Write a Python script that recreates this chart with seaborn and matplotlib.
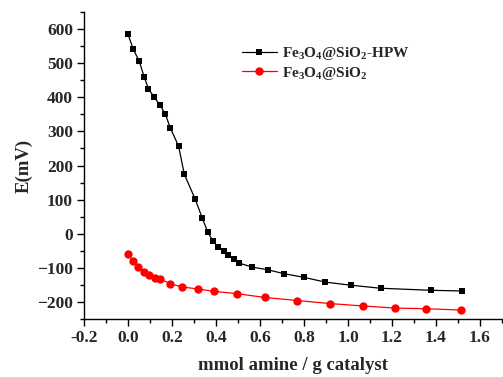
import matplotlib
matplotlib.use("Agg")
import matplotlib.pyplot as plt
from matplotlib.ticker import MultipleLocator
import seaborn as sns
import pandas as pd

# Data
hpw_x = [0.0, 0.024, 0.051, 0.073, 0.093, 0.119, 0.146, 0.170, 0.193, 0.230, 0.256, 0.305,
         0.338, 0.363, 0.386, 0.409, 0.435, 0.456, 0.481, 0.504, 0.565, 0.637, 0.707,
         0.800, 0.897, 1.012, 1.148, 1.379, 1.518]
hpw_y = [585, 541, 506, 461, 425, 400, 377, 350, 309, 257, 174, 102,
         45, 4, -22, -38, -50, -63, -75, -86, -98, -106, -117,
         -128, -142, -151, -160, -166, -168]
sio2_x = [0.0, 0.021, 0.046, 0.071, 0.095, 0.122, 0.146, 0.193, 0.244, 0.317, 0.389,
          0.497, 0.622, 0.770, 0.920, 1.069, 1.213, 1.355, 1.515]
sio2_y = [-59, -80, -99, -112, -122, -129, -133, -147, -156, -162, -169,
          -176, -187, -196, -205, -212, -218, -220, -224]
label_hpw = r"Fe$_3$O$_4$@SiO$_2$-HPW"
label_sio2 = r"Fe$_3$O$_4$@SiO$_2$"

sns.set_theme(style="white")
plt.rcParams["font.family"] = ["Liberation Serif", "DejaVu Serif"]
plt.rcParams["font.weight"] = "bold"
plt.rcParams["mathtext.fontset"] = "custom"
plt.rcParams["mathtext.rm"] = "Liberation Serif:bold"
plt.rcParams["mathtext.it"] = "Liberation Serif:bold"
plt.rcParams["mathtext.bf"] = "Liberation Serif:bold"
plt.rcParams["mathtext.default"] = "rm"

fig = plt.figure(figsize=(5.03, 3.77), dpi=100)
ax = fig.add_axes([0.167, 0.154, 0.831, 0.814])

df1 = pd.DataFrame({"x": hpw_x, "y": hpw_y})
df2 = pd.DataFrame({"x": sio2_x, "y": sio2_y})
sns.lineplot(data=df1, x="x", y="y", ax=ax, sort=False, color="black", marker="s",
             markersize=5, markeredgewidth=0, linewidth=0.9, label=label_hpw)
sns.lineplot(data=df2, x="x", y="y", ax=ax, sort=False, color="red", marker="o",
             markersize=6, markeredgewidth=0, linewidth=0.9, label=label_sio2)

ax.set_xlim(-0.2, 1.7)
ax.set_ylim(-250, 650)
ax.set_xticks([-0.2, 0.0, 0.2, 0.4, 0.6, 0.8, 1.0, 1.2, 1.4, 1.6])
ax.set_xticklabels(["-0.2", "0.0", "0.2", "0.4", "0.6", "0.8", "1.0", "1.2", "1.4", "1.6"])
ax.set_yticks([-200, -100, 0, 100, 200, 300, 400, 500, 600])
ax.xaxis.set_minor_locator(MultipleLocator(0.1))
ax.yaxis.set_minor_locator(MultipleLocator(50))
ax.tick_params(which="major", direction="out", length=5, width=1, color="black",
               labelsize=12.5, pad=3, bottom=True, left=True)
ax.tick_params(which="minor", direction="out", length=3, width=1, color="black",
               bottom=True, left=True)
for lab in ax.get_xticklabels() + ax.get_yticklabels():
    lab.set_fontweight("bold")

for s in ["top", "right"]:
    ax.spines[s].set_visible(False)
for s in ["left", "bottom"]:
    ax.spines[s].set_color("black")
    ax.spines[s].set_linewidth(1.0)

ax.set_xlabel("mmol amine / g catalyst", fontsize=13.5, fontweight="bold", labelpad=8)
ax.set_ylabel("E(mV)", fontsize=13.5, fontweight="bold", labelpad=3)

leg = ax.legend(loc="upper left", bbox_to_anchor=(0.465, 0.90), bbox_transform=fig.transFigure,
                frameon=False, fontsize=11, handlelength=2.3, handletextpad=0.35,
                labelspacing=0.15, borderpad=0)

fig.savefig("out.png", dpi=100)
